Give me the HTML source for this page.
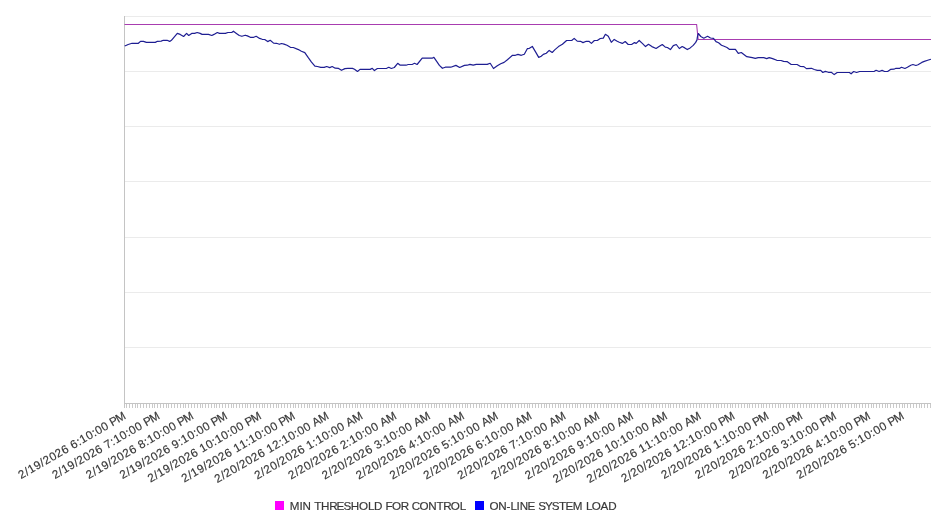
<!DOCTYPE html>
<html><head><meta charset="utf-8"><style>
html,body{margin:0;padding:0;background:#fff;width:946px;height:526px;overflow:hidden}
svg{display:block;will-change:transform}
text{font-family:"Liberation Sans",sans-serif;white-space:pre}
</style></head><body>
<svg width="946" height="526" viewBox="0 0 946 526">
<rect width="946" height="526" fill="#fff"/>
<path d="M124.5 16.5H931M124.5 71.5H931M124.5 126.5H931M124.5 181.5H931M124.5 237.5H931M124.5 292.5H931M124.5 347.5H931" stroke="#ebebeb" stroke-width="1" fill="none"/>
<path d="M126.5 403V408M129.5 403V408M132.5 403V408M135.5 403V408M137.5 403V408M140.5 403V408M143.5 403V408M146.5 403V408M149.5 403V408M152.5 403V408M154.5 403V408M157.5 403V408M160.5 403V408M163.5 403V408M166.5 403V408M168.5 403V408M171.5 403V408M174.5 403V408M177.5 403V408M180.5 403V408M183.5 403V408M185.5 403V408M188.5 403V408M191.5 403V408M194.5 403V408M197.5 403V408M200.5 403V408M202.5 403V408M205.5 403V408M208.5 403V408M211.5 403V408M214.5 403V408M216.5 403V408M219.5 403V408M222.5 403V408M225.5 403V408M228.5 403V408M231.5 403V408M233.5 403V408M236.5 403V408M239.5 403V408M242.5 403V408M245.5 403V408M247.5 403V408M250.5 403V408M253.5 403V408M256.5 403V408M259.5 403V408M262.5 403V408M264.5 403V408M267.5 403V408M270.5 403V408M273.5 403V408M276.5 403V408M278.5 403V408M281.5 403V408M284.5 403V408M287.5 403V408M290.5 403V408M293.5 403V408M295.5 403V408M298.5 403V408M301.5 403V408M304.5 403V408M307.5 403V408M309.5 403V408M312.5 403V408M315.5 403V408M318.5 403V408M321.5 403V408M324.5 403V408M326.5 403V408M329.5 403V408M332.5 403V408M335.5 403V408M338.5 403V408M340.5 403V408M343.5 403V408M346.5 403V408M349.5 403V408M352.5 403V408M355.5 403V408M357.5 403V408M360.5 403V408M363.5 403V408M366.5 403V408M369.5 403V408M372.5 403V408M374.5 403V408M377.5 403V408M380.5 403V408M383.5 403V408M386.5 403V408M388.5 403V408M391.5 403V408M394.5 403V408M397.5 403V408M400.5 403V408M403.5 403V408M405.5 403V408M408.5 403V408M411.5 403V408M414.5 403V408M417.5 403V408M419.5 403V408M422.5 403V408M425.5 403V408M428.5 403V408M431.5 403V408M434.5 403V408M436.5 403V408M439.5 403V408M442.5 403V408M445.5 403V408M448.5 403V408M450.5 403V408M453.5 403V408M456.5 403V408M459.5 403V408M462.5 403V408M465.5 403V408M467.5 403V408M470.5 403V408M473.5 403V408M476.5 403V408M479.5 403V408M481.5 403V408M484.5 403V408M487.5 403V408M490.5 403V408M493.5 403V408M496.5 403V408M498.5 403V408M501.5 403V408M504.5 403V408M507.5 403V408M510.5 403V408M512.5 403V408M515.5 403V408M518.5 403V408M521.5 403V408M524.5 403V408M527.5 403V408M529.5 403V408M532.5 403V408M535.5 403V408M538.5 403V408M541.5 403V408M544.5 403V408M546.5 403V408M549.5 403V408M552.5 403V408M555.5 403V408M558.5 403V408M560.5 403V408M563.5 403V408M566.5 403V408M569.5 403V408M572.5 403V408M575.5 403V408M577.5 403V408M580.5 403V408M583.5 403V408M586.5 403V408M589.5 403V408M591.5 403V408M594.5 403V408M597.5 403V408M600.5 403V408M603.5 403V408M606.5 403V408M608.5 403V408M611.5 403V408M614.5 403V408M617.5 403V408M620.5 403V408M622.5 403V408M625.5 403V408M628.5 403V408M631.5 403V408M634.5 403V408M637.5 403V408M639.5 403V408M642.5 403V408M645.5 403V408M648.5 403V408M651.5 403V408M653.5 403V408M656.5 403V408M659.5 403V408M662.5 403V408M665.5 403V408M668.5 403V408M670.5 403V408M673.5 403V408M676.5 403V408M679.5 403V408M682.5 403V408M684.5 403V408M687.5 403V408M690.5 403V408M693.5 403V408M696.5 403V408M699.5 403V408M701.5 403V408M704.5 403V408M707.5 403V408M710.5 403V408M713.5 403V408M716.5 403V408M718.5 403V408M721.5 403V408M724.5 403V408M727.5 403V408M730.5 403V408M732.5 403V408M735.5 403V408M738.5 403V408M741.5 403V408M744.5 403V408M747.5 403V408M749.5 403V408M752.5 403V408M755.5 403V408M758.5 403V408M761.5 403V408M763.5 403V408M766.5 403V408M769.5 403V408M772.5 403V408M775.5 403V408M778.5 403V408M780.5 403V408M783.5 403V408M786.5 403V408M789.5 403V408M792.5 403V408M794.5 403V408M797.5 403V408M800.5 403V408M803.5 403V408M806.5 403V408M809.5 403V408M811.5 403V408M814.5 403V408M817.5 403V408M820.5 403V408M823.5 403V408M825.5 403V408M828.5 403V408M831.5 403V408M834.5 403V408M837.5 403V408M840.5 403V408M842.5 403V408M845.5 403V408M848.5 403V408M851.5 403V408M854.5 403V408M856.5 403V408M859.5 403V408M862.5 403V408M865.5 403V408M868.5 403V408M871.5 403V408M873.5 403V408M876.5 403V408M879.5 403V408M882.5 403V408M885.5 403V408M887.5 403V408M890.5 403V408M893.5 403V408M896.5 403V408M899.5 403V408M902.5 403V408M904.5 403V408M907.5 403V408M910.5 403V408M913.5 403V408M916.5 403V408M919.5 403V408M921.5 403V408M924.5 403V408M927.5 403V408M930.5 403V408" stroke="#cacaca" stroke-width="1" fill="none"/>
<path d="M124.5 16V408M124 403.5H931" stroke="#c4c4c4" stroke-width="1" fill="none"/>
<polyline points="124.5,24.5 696.6,24.5 698.2,39.5 931,39.5" stroke="#a83cb0" stroke-width="1.1" fill="none"/>
<polyline points="124.7,46 128.2,44.5 132,43.3 138.4,43.3 140.5,41.4 143.5,41.4 146.4,42.4 155.3,42.4 157.4,41.3 161.2,41.1 163.3,40.3 167.1,40.3 169.7,41.4 171.4,40.3 177.3,33.4 180.2,34.4 183.6,36.5 186.6,33.4 188.7,35.5 191.7,33.4 194.6,33.4 197.2,32.5 200.1,33.4 202.1,34.4 208.5,34.4 211.8,35.5 214,34.4 217.3,32.5 219.5,33.4 225.4,33.4 227.9,32.5 231.7,32.5 233.4,31.2 236.4,33.4 239.3,35.5 241.9,36.3 245.2,35.2 247.4,35.9 250.3,37.3 253.7,37.3 256.2,36.3 259.6,38.4 262.2,39.3 264.7,39.5 267.7,41.6 270.2,40.3 273.6,43.1 276.5,43.3 279.4,44.3 281.5,43.5 284,44.1 287,45.3 290.4,47.3 293.3,47.5 298.4,49.6 301.4,51.3 304.8,52.6 308.1,57.4 311.5,62.1 314.9,66.1 317.4,66.5 320.8,67.4 324.2,67.4 326.7,66.5 329.7,67.6 332.2,66.5 335.2,68.2 338.6,68.4 341.5,70.3 344.9,68.6 347.9,68.4 352.5,68.4 354.5,69.2 357.5,71.5 360,69.4 370.2,69.4 372.3,68.3 374.4,70.6 377.4,68.5 386.7,68.3 388.8,67.3 391.3,68.5 394.3,67.5 397.7,63.3 400.2,65.2 406.1,65.2 408.2,64.5 412.5,64.3 414.6,63.3 417.1,64.5 422.2,58.2 432.2,58.2 433.9,57.3 436.5,61.1 439.4,65.4 442.4,68.3 445.3,67.2 450.8,67.2 455.9,65.4 459.7,67.5 464.4,65.4 467.3,65.2 469.9,64.4 473.2,65.2 476.2,64.4 487.2,64.4 490.2,63.3 493.5,68.5 497.3,65.8 500.7,63.7 504.1,62.4 507.4,59.7 512.5,55.3 515.4,55.3 518,54.4 521.3,55.3 524.3,54.2 527.3,48.7 529.4,48.3 532.3,46.4 535.7,52.1 538.7,57.4 541.2,56.3 543.3,54.4 546.3,53.2 549.2,50.4 552.2,52.5 554.7,49.9 558.5,46.6 562.4,44.3 566.6,40.5 571.7,40.5 574.2,38.4 577.2,41.1 580.5,41.3 583,42.6 586.3,41.3 588.9,41.3 591.4,43.4 594.4,40.5 597.3,40.5 600.3,38.5 603.3,38.1 605.4,34.3 608.3,36.2 611.3,42.3 614.2,39.4 617.2,41.3 619.3,42.3 622.3,43.4 625.2,41.5 628.2,44.5 631.6,44.5 634.5,42.6 636.2,43.4 639.2,40.5 642.6,43.6 645.5,46.6 648.5,44.3 651.9,46.6 656.1,48.5 659,46.6 662.3,44.5 665.3,47.1 667.4,47.5 670.4,49.6 673.3,45.6 676.3,44.5 679.3,48.5 682.2,46.5 684.8,47.9 687.3,49.6 690.2,47.9 693.2,45.4 695.7,42.4 697,39.9 697.4,36.9 698.3,33.5 700.8,36.5 703.8,38.2 707.6,36.3 710.5,38 713.5,38.4 716,41.6 718.6,42.7 721.5,45.2 724.1,46.2 727,47.5 729.6,49.4 735.4,49.3 738.3,53.4 741.3,52.5 746.8,56.7 752.3,57.6 755.3,58.4 758.2,57.6 763.7,57.6 766.7,58.6 769.2,57.6 772.6,58.6 776.8,60.3 781,60.5 783.6,61.4 787,61.6 791.2,64.5 797.1,64.5 800.5,66.5 803.9,66.6 806.4,68.6 811.4,68.3 814.3,69.5 817.3,70.4 820.7,70.4 822.8,72.5 825.3,71.4 828.3,72.3 831.3,72.3 834.2,74.6 837.2,72.5 849.4,72.5 851.1,73.8 853.7,71.5 856.6,72.5 859.6,71.5 874,71.5 876.1,70.3 879.1,71.5 882.1,70.4 884.6,71.5 887.6,71.5 890.5,69.4 893.9,69.2 896,68.3 899.8,68.3 901.5,67.3 904.9,68.5 907.4,67.3 910.8,65.2 912.9,64.5 915.9,65.5 918,64.7 921.8,62.4 924.3,61.4 927.7,60.3 930.9,59.2" stroke="#1e1e92" stroke-width="1.2" stroke-linejoin="round" fill="none"/>
<g font-size="11.65" fill="#383838" stroke="#383838" stroke-width="0.18">
<text transform="translate(126.6 418.3) rotate(-30)" x="-121.81 -114.69 -111.02 -104 -96.99 -93.4 -86.26 -79.41 -72.26 -65.52 -61.77 -54.79 -51.12 -44.07 -37.09 -33.36 -26.36 -19.62 -16.51 -9.59" y="0">2/19/2026 6:10:00 PM</text>
<text transform="translate(160.44 418.3) rotate(-30)" x="-121.81 -114.69 -111.02 -104 -96.99 -93.4 -86.26 -79.41 -72.26 -65.52 -61.79 -54.79 -51.12 -44.07 -37.09 -33.36 -26.36 -19.62 -16.51 -9.59" y="0">2/19/2026 7:10:00 PM</text>
<text transform="translate(194.27 418.3) rotate(-30)" x="-121.81 -114.69 -111.02 -104 -96.99 -93.4 -86.26 -79.41 -72.26 -65.52 -61.77 -54.79 -51.12 -44.07 -37.09 -33.36 -26.36 -19.62 -16.51 -9.59" y="0">2/19/2026 8:10:00 PM</text>
<text transform="translate(228.1 418.3) rotate(-30)" x="-121.81 -114.69 -111.02 -104 -96.99 -93.4 -86.26 -79.41 -72.26 -65.52 -61.8 -54.79 -51.12 -44.07 -37.09 -33.36 -26.36 -19.62 -16.51 -9.59" y="0">2/19/2026 9:10:00 PM</text>
<text transform="translate(261.94 418.3) rotate(-30)" x="-128.81 -121.69 -118.02 -111 -103.99 -100.4 -93.26 -86.41 -79.26 -72.52 -68.83 -61.77 -54.79 -51.12 -44.07 -37.09 -33.36 -26.36 -19.62 -16.51 -9.59" y="0">2/19/2026 10:10:00 PM</text>
<text transform="translate(295.77 418.3) rotate(-30)" x="-128.81 -121.69 -118.02 -111 -103.99 -100.4 -93.26 -86.41 -79.26 -72.52 -68.83 -61.83 -54.79 -51.12 -44.07 -37.09 -33.36 -26.36 -19.62 -16.51 -9.59" y="0">2/19/2026 11:10:00 PM</text>
<text transform="translate(329.61 418.3) rotate(-30)" x="-129.7 -122.58 -119 -111.85 -104.88 -101.29 -94.15 -87.3 -80.15 -73.41 -69.72 -62.81 -55.68 -52.02 -44.96 -37.98 -34.25 -27.25 -20.51 -17.14 -9.59" y="0">2/20/2026 12:10:00 AM</text>
<text transform="translate(363.44 418.3) rotate(-30)" x="-122.7 -115.58 -112 -104.86 -97.88 -94.3 -87.15 -80.3 -73.15 -66.41 -62.72 -55.68 -52.02 -44.96 -37.98 -34.25 -27.25 -20.51 -17.14 -9.59" y="0">2/20/2026 1:10:00 AM</text>
<text transform="translate(397.28 418.3) rotate(-30)" x="-122.7 -115.58 -112 -104.86 -97.88 -94.3 -87.15 -80.3 -73.15 -66.41 -62.81 -55.68 -52.02 -44.96 -37.98 -34.25 -27.25 -20.51 -17.14 -9.59" y="0">2/20/2026 2:10:00 AM</text>
<text transform="translate(431.12 418.3) rotate(-30)" x="-122.7 -115.58 -112 -104.86 -97.88 -94.3 -87.15 -80.3 -73.15 -66.41 -62.64 -55.68 -52.02 -44.96 -37.98 -34.25 -27.25 -20.51 -17.14 -9.59" y="0">2/20/2026 3:10:00 AM</text>
<text transform="translate(464.95 418.3) rotate(-30)" x="-122.7 -115.58 -112 -104.86 -97.88 -94.3 -87.15 -80.3 -73.15 -66.41 -62.66 -55.68 -52.02 -44.96 -37.98 -34.25 -27.25 -20.51 -17.14 -9.59" y="0">2/20/2026 4:10:00 AM</text>
<text transform="translate(498.78 418.3) rotate(-30)" x="-122.7 -115.58 -112 -104.86 -97.88 -94.3 -87.15 -80.3 -73.15 -66.41 -62.7 -55.68 -52.02 -44.96 -37.98 -34.25 -27.25 -20.51 -17.14 -9.59" y="0">2/20/2026 5:10:00 AM</text>
<text transform="translate(532.62 418.3) rotate(-30)" x="-122.7 -115.58 -112 -104.86 -97.88 -94.3 -87.15 -80.3 -73.15 -66.41 -62.66 -55.68 -52.02 -44.96 -37.98 -34.25 -27.25 -20.51 -17.14 -9.59" y="0">2/20/2026 6:10:00 AM</text>
<text transform="translate(566.46 418.3) rotate(-30)" x="-122.7 -115.58 -112 -104.86 -97.88 -94.3 -87.15 -80.3 -73.15 -66.41 -62.68 -55.68 -52.02 -44.96 -37.98 -34.25 -27.25 -20.51 -17.14 -9.59" y="0">2/20/2026 7:10:00 AM</text>
<text transform="translate(600.29 418.3) rotate(-30)" x="-122.7 -115.58 -112 -104.86 -97.88 -94.3 -87.15 -80.3 -73.15 -66.41 -62.66 -55.68 -52.02 -44.96 -37.98 -34.25 -27.25 -20.51 -17.14 -9.59" y="0">2/20/2026 8:10:00 AM</text>
<text transform="translate(634.12 418.3) rotate(-30)" x="-122.7 -115.58 -112 -104.86 -97.88 -94.3 -87.15 -80.3 -73.15 -66.41 -62.69 -55.68 -52.02 -44.96 -37.98 -34.25 -27.25 -20.51 -17.14 -9.59" y="0">2/20/2026 9:10:00 AM</text>
<text transform="translate(667.96 418.3) rotate(-30)" x="-129.7 -122.58 -119 -111.85 -104.88 -101.29 -94.15 -87.3 -80.15 -73.41 -69.72 -62.66 -55.68 -52.02 -44.96 -37.98 -34.25 -27.25 -20.51 -17.14 -9.59" y="0">2/20/2026 10:10:00 AM</text>
<text transform="translate(701.8 418.3) rotate(-30)" x="-129.7 -122.58 -119 -111.85 -104.88 -101.29 -94.15 -87.3 -80.15 -73.41 -69.72 -62.72 -55.68 -52.02 -44.96 -37.98 -34.25 -27.25 -20.51 -17.14 -9.59" y="0">2/20/2026 11:10:00 AM</text>
<text transform="translate(735.63 418.3) rotate(-30)" x="-128.81 -121.69 -118.11 -110.96 -103.99 -100.4 -93.26 -86.41 -79.26 -72.52 -68.83 -61.91 -54.79 -51.12 -44.07 -37.09 -33.36 -26.36 -19.62 -16.51 -9.59" y="0">2/20/2026 12:10:00 PM</text>
<text transform="translate(769.47 418.3) rotate(-30)" x="-121.81 -114.69 -111.11 -103.96 -96.99 -93.4 -86.26 -79.41 -72.26 -65.52 -61.83 -54.79 -51.12 -44.07 -37.09 -33.36 -26.36 -19.62 -16.51 -9.59" y="0">2/20/2026 1:10:00 PM</text>
<text transform="translate(803.3 418.3) rotate(-30)" x="-121.81 -114.69 -111.11 -103.96 -96.99 -93.4 -86.26 -79.41 -72.26 -65.52 -61.91 -54.79 -51.12 -44.07 -37.09 -33.36 -26.36 -19.62 -16.51 -9.59" y="0">2/20/2026 2:10:00 PM</text>
<text transform="translate(837.13 418.3) rotate(-30)" x="-121.81 -114.69 -111.11 -103.96 -96.99 -93.4 -86.26 -79.41 -72.26 -65.52 -61.75 -54.79 -51.12 -44.07 -37.09 -33.36 -26.36 -19.62 -16.51 -9.59" y="0">2/20/2026 3:10:00 PM</text>
<text transform="translate(870.97 418.3) rotate(-30)" x="-121.81 -114.69 -111.11 -103.96 -96.99 -93.4 -86.26 -79.41 -72.26 -65.52 -61.77 -54.79 -51.12 -44.07 -37.09 -33.36 -26.36 -19.62 -16.51 -9.59" y="0">2/20/2026 4:10:00 PM</text>
<text transform="translate(904.81 418.3) rotate(-30)" x="-121.81 -114.69 -111.11 -103.96 -96.99 -93.4 -86.26 -79.41 -72.26 -65.52 -61.81 -54.79 -51.12 -44.07 -37.09 -33.36 -26.36 -19.62 -16.51 -9.59" y="0">2/20/2026 5:10:00 PM</text>
</g>
<rect x="275" y="501" width="9" height="9" fill="#ff00ff"/>
<rect x="475" y="501" width="9" height="9" fill="#0000ff"/>
<text x="289.8 299.39 302.54 310.86 314.16 321.01 329.14 336.54 343.61 350.85 359 367.91 374.03 382.45 385.53 392.08 400.73 408.58 411.65 419.56 428.32 436.45 443.15 450.81 459.71" y="509.8" font-size="11.65" fill="#383838" stroke="#383838" stroke-width="0.18">MIN THRESHOLD FOR CONTROL</text>
<text x="489.4 498.16 506.53 510.51 516.59 519.73 527.61 535.01 538.17 544.96 551.87 558.99 565.46 572.75 582.35 585.9 591.77 600.51 608.2" y="509.8" font-size="11.65" fill="#383838" stroke="#383838" stroke-width="0.18">ON-LINE SYSTEM LOAD</text>
</svg></body></html>
